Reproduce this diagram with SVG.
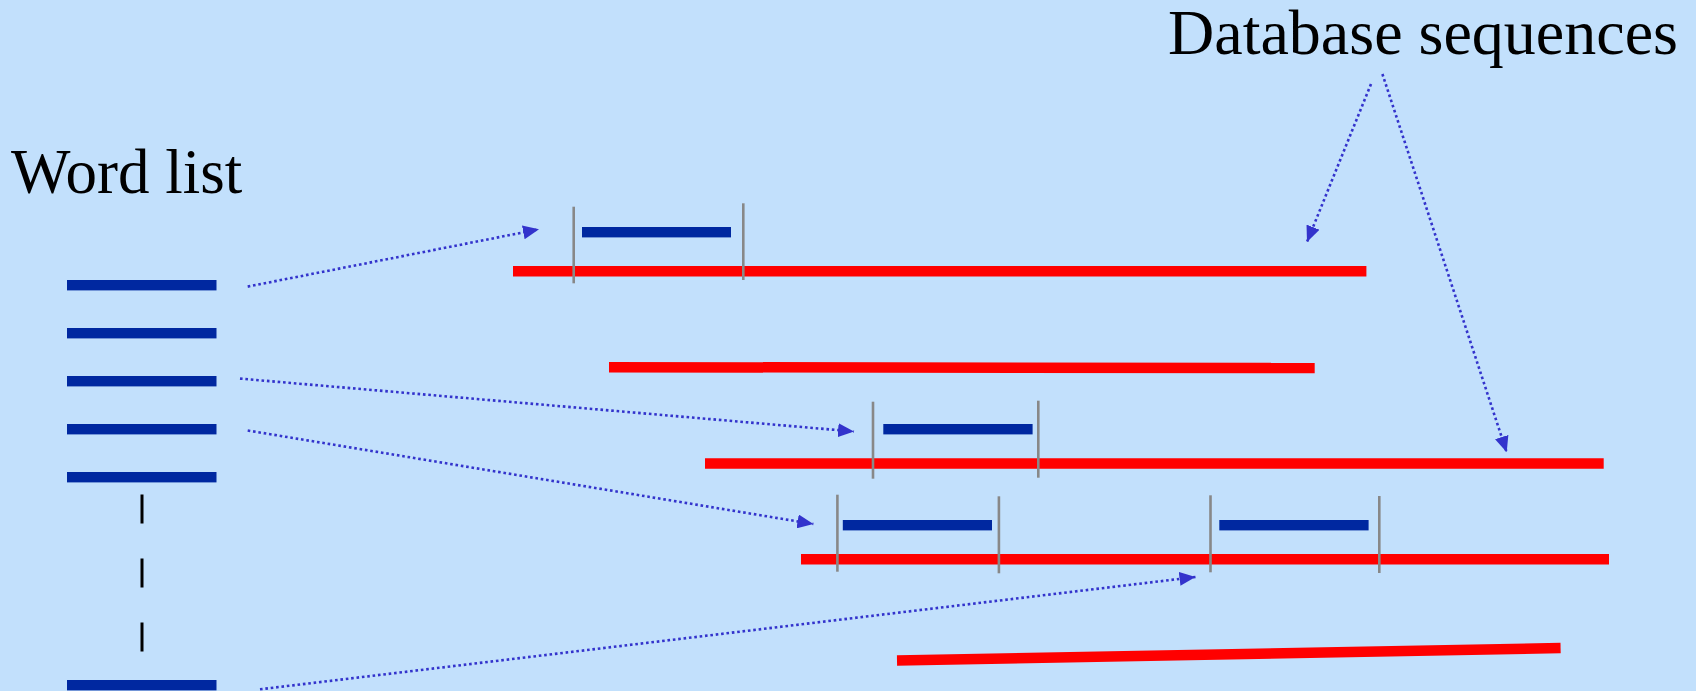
<svg xmlns="http://www.w3.org/2000/svg" width="1696" height="691" viewBox="0 0 1696 691">
  <style>
    .label { font-family: "Liberation Serif", "Times New Roman", serif; fill: #000000; }
    .word { fill: #0028A0; }
    .seq { stroke: #FF0000; stroke-width: 10.5; stroke-linecap: butt; fill: none; }
    .tick { stroke: #888888; stroke-width: 2.6; fill: none; }
    .dash { stroke: #000000; stroke-width: 3; }
    .conn { stroke: #3333CC; stroke-width: 2.6; stroke-dasharray: 2.6 2.8; fill: none; marker-end: url(#arrow); }
  </style>
  <defs>
    <marker id="arrow" markerUnits="userSpaceOnUse" viewBox="0 0 16 14" refX="16" refY="7" markerWidth="16" markerHeight="14" orient="auto">
      <path d="M0,0 L16,7 L0,14 Z" fill="#3333CC"/>
    </marker>
  </defs>
  <rect x="0" y="0" width="1696" height="691" fill="#C2E0FC"/>

  <g id="label-word-list">
    <text class="label" x="11" y="193" font-size="63">Word list</text>
  </g>
  <g id="label-database-sequences">
    <text class="label" x="1168" y="54" font-size="64">Database sequences</text>
  </g>

  <g id="word-list">
    <rect class="word" x="67" y="280" width="149.5" height="10.4"/>
    <rect class="word" x="67" y="328" width="149.5" height="10.4"/>
    <rect class="word" x="67" y="376" width="149.5" height="10.4"/>
    <rect class="word" x="67" y="424" width="149.5" height="10.4"/>
    <rect class="word" x="67" y="472" width="149.5" height="10.4"/>
    <line class="dash" x1="142" y1="494.5" x2="142" y2="523.5"/>
    <line class="dash" x1="142" y1="558.5" x2="142" y2="587.5"/>
    <line class="dash" x1="142" y1="622.5" x2="142" y2="651.5"/>
    <rect class="word" x="67" y="680" width="149.5" height="10.4"/>
  </g>

  <g id="seq-1">
    <line class="seq" x1="513" y1="271.3" x2="1366.4" y2="271.3"/>
    <line class="tick" x1="573.7" y1="206.7" x2="573.7" y2="283.3"/>
    <line class="tick" x1="743.3" y1="203.3" x2="743.3" y2="280"/>
    <rect class="word" x="582" y="227" width="149" height="10.4"/>
  </g>
  <g id="seq-2">
    <line class="seq" x1="609" y1="367.2" x2="1314.7" y2="368"/>
  </g>
  <g id="seq-3">
    <line class="seq" x1="705" y1="463.5" x2="1603.7" y2="463.5"/>
    <line class="tick" x1="873" y1="401.7" x2="873" y2="478.7"/>
    <line class="tick" x1="1038.3" y1="400.7" x2="1038.3" y2="477.7"/>
    <rect class="word" x="883.3" y="424" width="149.3" height="10.4"/>
  </g>
  <g id="seq-4">
    <line class="seq" x1="801" y1="559.2" x2="1609" y2="559.2"/>
    <line class="tick" x1="837.4" y1="494.7" x2="837.4" y2="571.7"/>
    <line class="tick" x1="998.9" y1="496.3" x2="998.9" y2="573.3"/>
    <rect class="word" x="842.8" y="520" width="149.2" height="10.4"/>
    <line class="tick" x1="1210.5" y1="495.3" x2="1210.5" y2="572.3"/>
    <line class="tick" x1="1379.3" y1="496" x2="1379.3" y2="573"/>
    <rect class="word" x="1219.3" y="520" width="149.3" height="10.4"/>
  </g>
  <g id="seq-5">
    <line class="seq" x1="897" y1="660.5" x2="1560.6" y2="648" stroke-width="10.7"/>
  </g>

  <g id="connectors">
    <line class="conn" x1="247.7" y1="286.6" x2="539" y2="229.3"/>
    <line class="conn" x1="240" y1="378.6" x2="854" y2="431.5"/>
    <line class="conn" x1="247.7" y1="430.5" x2="813.4" y2="524"/>
    <line class="conn" x1="260" y1="689.3" x2="1195.5" y2="577"/>
    <line class="conn" x1="1371" y1="84" x2="1307" y2="242"/>
    <line class="conn" x1="1382.4" y1="74" x2="1506.7" y2="452.3"/>
  </g>
</svg>
